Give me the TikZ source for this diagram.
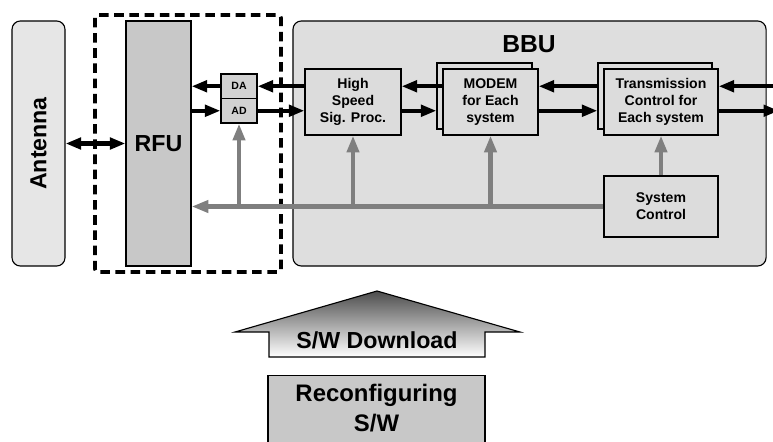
\documentclass[tikz,border=0pt]{standalone}
\usepackage{fontspec}
\setmainfont{Liberation Sans}
\usetikzlibrary{arrows.meta}

\definecolor{antfill}{HTML}{E6E6E6}
\definecolor{bbufill}{HTML}{DEDEDE}
\definecolor{boxfill}{HTML}{DCDCDC}
\definecolor{rfufill}{HTML}{C8C8C8}
\definecolor{convfill}{HTML}{D2D2D2}
\definecolor{busgray}{HTML}{7F7F7F}

\begin{document}
\begin{tikzpicture}[x=0.025cm, y=-0.025cm,
  blk/.style={draw, line width=0.8pt, fill=boxfill, align=center, inner sep=0pt,
    font=\fontsize{10}{12}\selectfont\bfseries},
  big/.style={font=\fontsize{16.5}{20}\selectfont\bfseries},
  darr/.style={line width=3.1pt, -{Triangle[length=11pt,width=8pt]}},
  garr/.style={line width=3.1pt, draw=busgray, -{Triangle[length=12pt,width=8.5pt,fill=busgray]}}]
\clip (0,0) rectangle (773,441);

\node[draw, line width=0.8pt, fill=antfill, rounded corners=6pt, minimum width=1.325cm, minimum height=6.125cm] (ant) at (38.5,143.5) {};
\node[big, rotate=90] at (ant) {Antenna};

\draw[line width=2.5pt, dash pattern=on 6.8pt off 4pt, rounded corners=2pt] (95,15) rectangle (281,272);

\node[draw, line width=0.8pt, fill=rfufill, minimum width=1.625cm, minimum height=6.125cm] (rfu) at (158.5,143.5) {};
\node[big] at (rfu) {RFU};

\node[blk, fill=convfill, minimum width=0.9cm, minimum height=0.6125cm, font=\fontsize{7.5}{9}\selectfont\bfseries] (da) at (239,86.25) {DA};
\node[blk, fill=convfill, minimum width=0.9cm, minimum height=0.6125cm, font=\fontsize{7.5}{9}\selectfont\bfseries] (ad) at (239,110.75) {AD};

\node[draw, line width=0.8pt, fill=bbufill, rounded corners=6pt, minimum width=11.825cm, minimum height=6.125cm] (bbu) at (529.5,143.5) {};
\node[big, font=\fontsize{17.5}{20}\selectfont\bfseries] at (529,44) {BBU};

\node[blk, minimum width=2.4cm, minimum height=1.65cm] (hsp) at (353,102) {High\\Speed\\Sig. Proc.};
\node[blk, minimum width=2.375cm, minimum height=1.65cm] (modemb) at (484.5,96) {};
\node[blk, minimum width=2.375cm, minimum height=1.65cm] (modem) at (490.5,102) {MODEM\\for Each\\system};
\node[blk, minimum width=2.85cm, minimum height=1.65cm] (tcb) at (655,96) {};
\node[blk, minimum width=2.85cm, minimum height=1.65cm] (tc) at (661,102) {Transmission\\Control for\\Each system};
\node[blk, minimum width=2.85cm, minimum height=1.525cm] (sc) at (661,206.5) {System\\Control};

\coordinate (inR) at (776,86.25);
\coordinate (outR) at (779,110.75);

\draw[line width=3pt, {Triangle[length=11pt,width=8pt]}-{Triangle[length=11pt,width=8pt]}] (ant) -- (rfu);
\draw[darr] (da) -- (rfu.east |- da);
\draw[darr] (rfu.east |- ad) -- (ad);
\draw[darr] (hsp.west |- da) -- (da);
\draw[darr] (ad) -- (hsp.west |- ad);
\draw[darr] (modem.west |- da) -- (hsp.east |- da);
\draw[darr] (hsp.east |- ad) -- (modemb.west |- ad);
\draw[darr] (tcb.west |- da) -- (modem.east |- da);
\draw[darr] (modem.east |- ad) -- (tcb.west |- ad);
\draw[darr] (inR) -- (tc.east |- inR);
\draw[darr] (tc.east |- outR) -- (outR);

\draw[garr] (sc) -- (rfu.east |- sc);
\draw[garr] (sc) -- (tc);
\draw[garr] (hsp |- sc) -- (hsp);
\draw[garr] (modem |- sc) -- (modem);
\draw[garr] (ad |- sc) -- (ad);

\shade[top color=black!70, bottom color=white, draw, line width=0.8pt]
  (377,291) -- (520,332) -- (485,332) -- (485,357) -- (269,357) -- (269,332) -- (235,332) -- cycle;
\node[big] (dl) at (377,340) {S/W Download};

\node[draw, line width=0.8pt, fill=rfufill, minimum width=5.425cm, minimum height=2.5cm, anchor=north] (rsw) at (376.5,375) {};
\node[align=center, font=\fontsize{17}{21.5}\selectfont\bfseries] at (376.5,408) {Reconfiguring\\S/W};
\end{tikzpicture}
\end{document}
